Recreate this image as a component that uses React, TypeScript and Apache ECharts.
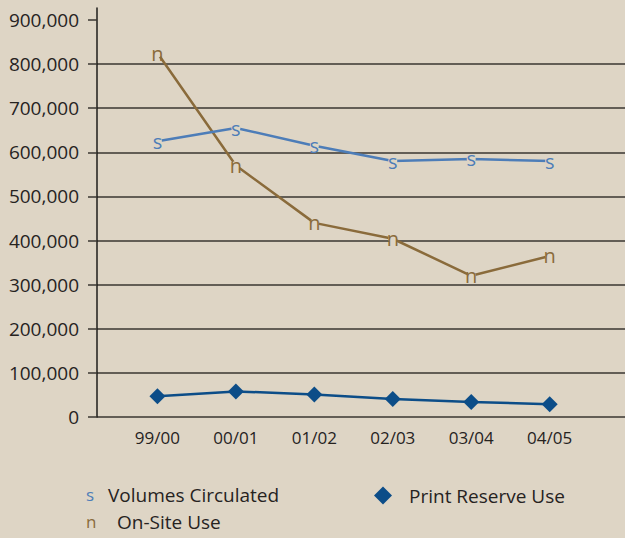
import React, { useEffect, useRef } from 'react';
import * as echarts from 'echarts';

const categories = ['99/00', '00/01', '01/02', '02/03', '03/04', '04/05'];
const volumesCirculated = [625000, 655000, 615000, 580000, 585000, 580000];
const onSiteUse = [825000, 570000, 440000, 404000, 320000, 365000];
const printReserveUse = [47000, 58000, 51000, 41000, 34000, 29000];
const yTickValues = [0, 100000, 200000, 300000, 400000, 500000, 600000, 700000, 800000, 900000];

const BG = '#ded5c5';
const TEXT = '#26231f';
const GRID = '#3a3631';
const BLUE = '#4d7db8';
const BROWN = '#8a6b3b';
const NAVY = '#0c4d88';
const FONT = 'Open Sans';

export default function App() {
  const ref = useRef<HTMLDivElement>(null);
  useEffect(() => {
    if (!ref.current) return;
    const chart = echarts.init(ref.current, null, { renderer: 'svg' });
    const glyphLabel = (ch: string, color: string) => ({
      show: true,
      position: 'inside',
      formatter: ch,
      color,
      fontSize: 20,
      fontFamily: FONT,
    });
    chart.setOption({
      animation: false,
      backgroundColor: BG,
      textStyle: { fontFamily: FONT },
      grid: { left: 97, right: 0, top: 8, bottom: 121, containLabel: false, outerBoundsMode: 'none' },
      xAxis: {
        type: 'value',
        min: -0.77,
        max: 5.96,
        axisLine: { show: false, onZero: false },
        axisTick: { show: false },
        splitLine: { show: false },
        axisLabel: {
          customValues: [0, 1, 2, 3, 4, 5],
          formatter: (v: number) => categories[Math.round(v)] ?? '',
          fontSize: 17,
          color: TEXT,
          margin: 12,
          fontFamily: FONT,
        },
      },
      yAxis: {
        type: 'value',
        min: 0,
        max: 927000,
        interval: 100000,
        axisLine: { show: true, onZero: false, lineStyle: { color: '#1e1c1a', width: 1.5 } },
        axisTick: { show: true, length: 9, customValues: yTickValues, lineStyle: { color: GRID, width: 1.5 } },
        axisLabel: {
          customValues: yTickValues,
          formatter: (v: number) => v.toLocaleString('en-US'),
          fontSize: 19,
          color: TEXT,
          margin: 18,
          fontFamily: FONT,
        },
        splitLine: { show: true, showMaxLine: false, lineStyle: { color: GRID, width: 1.5 } },
      },
      legend: [
        {
          orient: 'vertical',
          left: 81,
          top: 485,
          padding: 0,
          itemWidth: 0,
          itemHeight: 20,
          itemGap: 8,
          icon: 'circle',
          itemStyle: { opacity: 0, borderWidth: 0 },
          selectedMode: false,
          data: ['Volumes Circulated', 'On-Site Use'],
          formatter: (name: string) =>
            name === 'Volumes Circulated' ? '{s|s}{t|Volumes Circulated}' : '{n|n}{t|On-Site Use}',
          textStyle: {
            color: TEXT,
            fontFamily: FONT,
            rich: {
              s: { color: BLUE, fontSize: 17, width: 22, fontFamily: FONT, lineHeight: 20 },
              n: { color: BROWN, fontSize: 17, width: 31, fontFamily: FONT, lineHeight: 20 },
              t: { color: TEXT, fontSize: 19, fontFamily: FONT, lineHeight: 20 },
            },
          },
        },
        {
          left: 374,
          top: 486,
          padding: 0,
          itemWidth: 18,
          itemHeight: 18,
          icon: 'diamond',
          itemStyle: { color: NAVY, borderWidth: 0 },
          selectedMode: false,
          data: ['Print Reserve Use'],
          formatter: (name: string) => `{g|}{t|${name}}`,
          textStyle: {
            color: TEXT,
            fontFamily: FONT,
            rich: {
              g: { width: 12, lineHeight: 20 },
              t: { color: TEXT, fontSize: 19, fontFamily: FONT, lineHeight: 20 },
            },
          },
        },
      ],
      series: [
        {
          name: 'Print Reserve Use',
          type: 'line',
          data: printReserveUse.map((v, i) => [i, v]),
          symbol: 'diamond',
          symbolSize: 16,
          itemStyle: { color: NAVY },
          lineStyle: { color: NAVY, width: 2.5 },
          silent: true,
        },
        {
          name: 'On-Site Use',
          type: 'line',
          data: onSiteUse.map((v, i) => [i, v]),
          symbol: 'circle',
          symbolSize: 9,
          itemStyle: { color: BG },
          lineStyle: { color: BROWN, width: 2.5 },
          label: glyphLabel('n', BROWN),
          silent: true,
        },
        {
          name: 'Volumes Circulated',
          type: 'line',
          data: volumesCirculated.map((v, i) => [i, v]),
          symbol: 'circle',
          symbolSize: 9,
          itemStyle: { color: BG },
          lineStyle: { color: BLUE, width: 2.5 },
          label: glyphLabel('s', BLUE),
          silent: true,
        },
      ],
    });
    return () => chart.dispose();
  }, []);
  return (
    <div
      ref={ref}
      style={{ position: 'fixed', left: 0, top: 0, width: 625, height: 538, background: BG }}
    />
  );
}
